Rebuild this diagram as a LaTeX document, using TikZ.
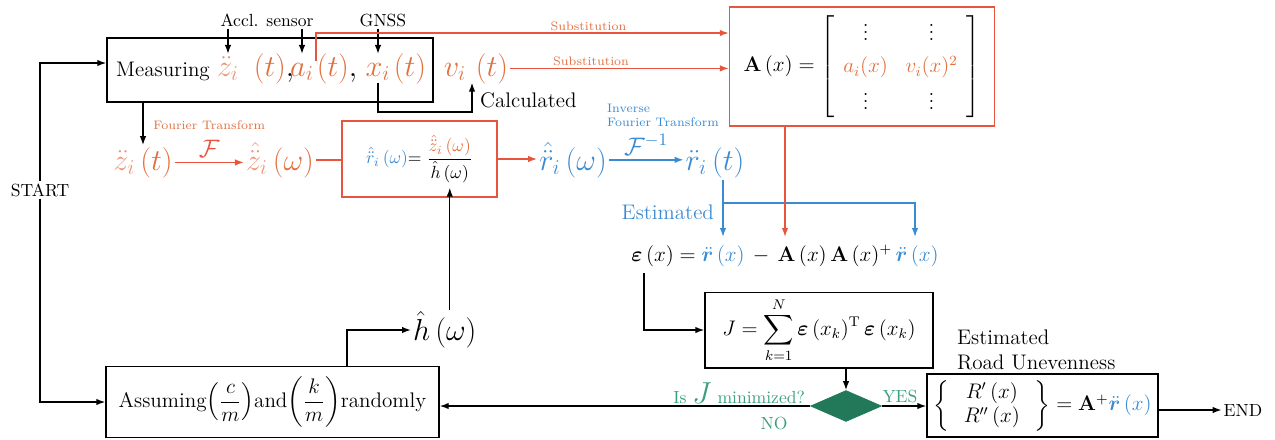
\documentclass[tikz,border=0pt]{standalone}
\usepackage{amsmath,amssymb,bm}
\usetikzlibrary{arrows.meta,positioning,shapes.geometric,calc}
\definecolor{zorange}{HTML}{EE9474}
\definecolor{sorange}{HTML}{E2703E}
\definecolor{sred}{HTML}{E8553F}
\definecolor{sblue}{HTML}{3A8BD2}
\definecolor{sgreen}{HTML}{3AA07C}
\definecolor{dgreen}{HTML}{22795A}
\tikzset{
  block/.style={draw=black, thick, align=center, inner sep=3pt},
  oblock/.style={block, draw=sred},
  arr/.style={-{Latex[length=1.8mm,width=1.3mm]}, thick},
  oarr/.style={arr, draw=sred},
  barr/.style={arr, draw=sblue},
  txt/.style={inner sep=1pt, font=\normalsize},
  btxt/.style={inner sep=1pt, font=\large},
  mth/.style={inner sep=1pt, font=\LARGE},
  tag/.style={inner sep=1pt, font=\scriptsize},
  decision/.style={diamond, draw=dgreen, fill=dgreen, aspect=2.3,
    minimum width=14.2mm, minimum height=6.2mm, inner sep=0pt}
}

\begin{document}
\begin{tikzpicture}[x=0.2mm, y=-0.2mm]
  \useasboundingbox (0,0) rectangle (1275,439);

  % measuring
  \node[block, minimum width=65.2mm, minimum height=12.8mm] (meas) at (270,70) {};
  \node[btxt, anchor=base] (measlbl) at (163,76) {Measuring};
  \node[mth, anchor=base, text=zorange] (zdd) at (228,76) {$\ddot z_i$};
  \node[mth, anchor=base] (zddt) at (274,76) {$\textcolor{sorange}{(t)},$};
  \node[mth, anchor=base, text=sorange] (acc) at (302,76) {$a_i$};
  \node[mth, anchor=base] (acct) at (337,76) {$\textcolor{sorange}{(t)},$};
  \node[mth, anchor=base, text=sorange] (pos) at (378,76) {$x_i$};
  \node[mth, anchor=base, text=sorange] (post) at (410,76) {$(t)$};
  \node[mth, anchor=base, text=sorange] (vel) at (455,76) {$v_i$};
  \node[mth, anchor=base, text=sorange] (velt) at (492,76) {$(t)$};
  \node[txt] (accl) at (267,20) {Accl. sensor};
  \node[txt] (gnss) at (383,20) {GNSS};
  \draw[arr] (accl.south -| zdd) -- (zdd.north);
  \draw[arr] (accl.south -| acc) -- (acc |- zdd.north);
  \draw[arr] (gnss.south -| pos) -- (pos |- zdd.north);

  % A matrix
  \node[oblock, font=\large, minimum width=53mm, minimum height=23.8mm] (abox) at (862,66.5)
    {\renewcommand{\arraystretch}{1.3}$\mathbf{A}\,(x) = \left[\begin{array}{cc}
      \vdots & \vdots\\
      \textcolor{sorange}{a_i(x)} & \textcolor{sorange}{v_i(x)^2}\\
      \vdots & \vdots
    \end{array}\right]$};
  \coordinate (sub) at (315,33);
  \draw[oarr] (acc.north east) |- (abox.west |- sub)
    node[tag, text=sorange, above, pos=0.83] {Substitution};
  \draw[oarr] (velt.east) -- (abox.west |- velt.east)
    node[tag, text=sorange, above, pos=0.37] {Substitution};
  \coordinate (calc) at (472,112);
  \draw[arr] (pos.south) |- (calc) -- (calc |- vel.south);
  \node[btxt, anchor=west] (calclbl) at (478,100) {Calculated};

  % frequency domain
  \node[mth, anchor=base, text=sorange] (zt) at (143,170) {$\textcolor{zorange}{\ddot z_i}\,(t)$};
  \node[mth, anchor=base, text=sorange] (zw) at (280,170) {$\textcolor{zorange}{\hat{\ddot z}_i}\,(\omega)$};
  \draw[arr] (meas.south -| zt.north) -- (zt.north);
  \draw[oarr] (zt.east) -- (zt.east -| zw.west)
    node[midway, above=-1pt, font=\Large, text=sred] {$\mathcal{F}$}
    node[midway, above=17pt, tag, text=sorange] {Fourier Transform};
  \node[oblock, minimum width=31mm, minimum height=15.2mm] (rbox) at (419.5,159)
    {$\textcolor{sblue}{\hat{\ddot r}_i\,(\omega)}{=}\;\dfrac{\textcolor{sorange}{\hat{\ddot z}_i\,(\omega)}}{\hat h\,(\omega)}$};
  \draw[sred, thick] (zw.east) -- (zw.east -| rbox.west);
  \node[mth, anchor=base, text=sblue] (rw) at (573,170) {$\hat{\ddot r}_i\,(\omega)$};
  \node[mth, anchor=base, text=sblue] (rtt) at (715,170) {$\ddot r_i\,(t)$};
  \draw[oarr] (rbox.east) -- (rbox.east -| rw.west);
  \draw[barr] (rw.east) -- (rw.east -| rtt.west)
    node[midway, above=-1pt, font=\Large, text=sblue] {$\mathcal{F}^{-1}$};
  \node[tag, text=sblue, align=left, anchor=west] (ift) at (605,115) {Inverse\\Fourier Transform};

  % error
  \node[font=\large] (eps) at (785,256)
    {$\bm{\varepsilon}\,(x) = \textcolor{sblue}{\ddot{\bm r}\,(x)} \,-\, \mathbf{A}\,(x)\,\mathbf{A}\,(x)^{+}\,\textcolor{sblue}{\ddot{\bm r}\,(x)}$};
  \coordinate (bsplit) at (723,203);
  \coordinate (er1) at (723,237);
  \coordinate (er2) at (915,237);
  \coordinate (eA) at (785,237);
  \draw[sblue, thick] (rtt.south -| bsplit) -- (bsplit);
  \draw[barr] (bsplit) -- (er1);
  \draw[barr] (bsplit) -| (er2);
  \node[btxt, text=sblue, anchor=east] (estlbl) at (716,212) {Estimated};
  \draw[oarr] (abox.south -| eA) -- (eA);

  % objective
  \node[block, font=\large, minimum width=45.6mm, minimum height=14.8mm] (jbox) at (819,330)
    {$J=\displaystyle\sum_{k=1}^{N}\bm{\varepsilon}\,(x_k)^{\mathrm{T}}\,\bm{\varepsilon}\,(x_k)$};
  \draw[arr] ([xshift=3.8mm]eps.south west) |- (jbox.west);
  \node[decision] (dec) at (846,406) {};
  \draw[arr] (jbox.south -| dec.north) -- (dec.north);
  \node[txt, text=sgreen, anchor=east] (qlbl) at (807,393) {Is {\LARGE$J$} minimized?};
  \node[txt, text=sgreen] (yes) at (900,396) {YES};
  \node[txt, text=sgreen] (no) at (774,423) {NO};

  % result
  \node[block, font=\large, minimum width=46.2mm, minimum height=12.6mm] (res) at (1042.5,405.5)
    {$\left\{\;\begin{array}{c}R'\,(x)\\ R''\,(x)\end{array}\;\right\} = \mathbf{A}^{+}\textcolor{sblue}{\ddot{\bm r}\,(x)}$};
  \node[btxt, align=left, anchor=west] (estroad) at (955,350) {Estimated\\Road Unevenness};
  \node[txt] (endlbl) at (1243,410) {END};
  \draw[arr] (dec.east) -- (dec.east -| res.west);
  \draw[arr] (res.east |- endlbl) -- (endlbl.west);

  % assumption
  \node[block, font=\large, minimum width=66.6mm, minimum height=14.2mm] (asm) at (272.5,402)
    {Assuming$\left(\dfrac{c}{m}\right)$and$\left(\dfrac{k}{m}\right)$randomly};
  \draw[arr] (dec.west) -- (dec.west -| asm.east);
  \node[mth, anchor=west] (hw) at (411,330) {$\hat h\,(\omega)$};
  \draw[arr] ([xshift=14.9mm]asm.north) |- (hw.west);
  \draw[arr] ([xshift=1mm]hw.north) -- ([xshift=1mm, yshift=2mm]hw.north |- rbox.south);

  % start
  \node[txt] (start) at (40,190) {START};
  \draw[arr] (start.north) |- ([yshift=1.4mm]meas.west);
  \draw[arr] (start.south) |- (asm.west);
\end{tikzpicture}
\end{document}
